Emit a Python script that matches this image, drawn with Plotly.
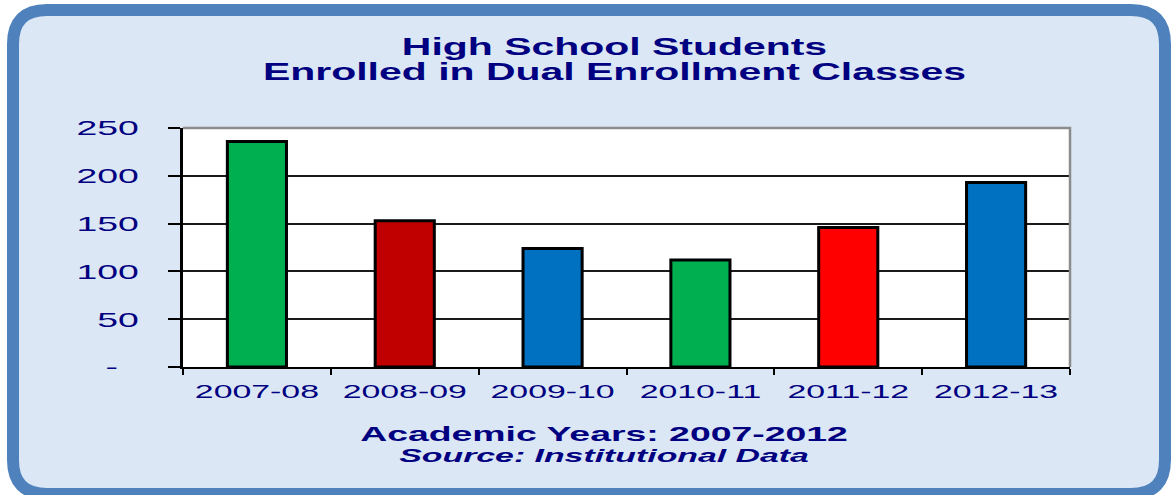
import plotly.graph_objects as go

# ---------------- data ----------------
years = ["2007-08", "2008-09", "2009-10", "2010-11", "2011-12", "2012-13"]
students = [236, 153, 124, 112, 146, 193]
bar_colors = ["#00B050", "#C00000", "#0070C0", "#00B050", "#FF0000", "#0070C0"]
ytick_vals = [0, 50, 100, 150, 200, 250]
ytick_text = ["-", "50", "100", "150", "200", "250"]
title_lines = ["High School Students", "Enrolled in Dual Enrollment Classes"]
x_title = "Academic Years: 2007-2012"
source_note = "Source: Institutional Data"

# ---------------- layout geometry ----------------
W, H = 1173, 495
L, R, T, B = 183, 103, 128, 128
PW, PH = W - L - R, H - T - B
NAVY = "#000080"
FONT = "Liberation Sans, Arial, sans-serif"


def px(x):
    return (x - L) / PW


def py(y):
    return (H - B - y) / PH


def rounded_path(x0, y0, x1, y1, r):
    pts = [
        ("M", [(x0 + r, y0)]),
        ("L", [(x1 - r, y0)]),
        ("Q", [(x1, y0), (x1, y0 + r)]),
        ("L", [(x1, y1 - r)]),
        ("Q", [(x1, y1), (x1 - r, y1)]),
        ("L", [(x0 + r, y1)]),
        ("Q", [(x0, y1), (x0, y1 - r)]),
        ("L", [(x0, y0 + r)]),
        ("Q", [(x0, y0), (x0 + r, y0)]),
    ]
    s = ""
    for cmd, ps in pts:
        s += cmd + " ".join(f"{px(a):.5f},{py(b):.5f}" for a, b in ps) + " "
    return s + "Z"


fig = go.Figure()
fig.add_trace(
    go.Bar(
        x=years,
        y=students,
        width=0.4,
        marker=dict(color=bar_colors, line=dict(color="black", width=3)),
        hoverinfo="x+y",
    )
)

shapes = [
    # rounded frame with light blue fill
    dict(
        type="path",
        xref="paper",
        yref="paper",
        path=rounded_path(13, 10, 1165, 494, 34),
        fillcolor="#DBE7F5",
        line=dict(color="#4F81BD", width=12),
        layer="below",
    ),
    # white plot area
    dict(
        type="rect", xref="paper", yref="paper", x0=0, y0=0, x1=1, y1=1,
        fillcolor="white", line=dict(width=0), layer="below",
    ),
    # grey top/right border of the plot area
    dict(
        type="path", xref="paper", yref="paper", path="M0,1 L1,1 L1,0",
        line=dict(color="#8C8C8C", width=2.5), layer="above",
    ),
]

ann = []
ann.append(dict(text=title_lines[0], x=px(614), y=py(47), font=dict(size=23, weight="bold")))
ann.append(dict(text=title_lines[1], x=px(614), y=py(72), font=dict(size=23, weight="bold")))
ann.append(dict(text=x_title, x=px(604), y=py(433), font=dict(size=21, weight="bold")))
ann.append(dict(text=source_note, x=px(604), y=py(455), font=dict(size=19, weight="bold", style="italic")))
for a in ann:
    a.update(xref="paper", yref="paper", showarrow=False, xanchor="center", yanchor="middle")
    a["font"].update(family=FONT, color=NAVY)

ylabels = [ytick_text[0] + "\u00a0\u00a0"] + ytick_text[1:]

fig.update_layout(
    width=W,
    height=H,
    margin=dict(l=L, r=R, t=T, b=B, autoexpand=False),
    paper_bgcolor="white",
    plot_bgcolor="white",
    showlegend=False,
    shapes=shapes,
    annotations=ann,
    bargap=0.6,
    xaxis=dict(
        type="category",
        showgrid=False,
        showline=True,
        linecolor="black",
        linewidth=2,
        ticks="outside",
        tickson="boundaries",
        ticklen=6,
        tickwidth=2,
        tickcolor="black",
        ticklabelstandoff=6,
        tickfont=dict(family=FONT, size=19, color=NAVY),
        fixedrange=True,
    ),
    yaxis=dict(
        range=[0, 250],
        tickvals=ytick_vals,
        ticktext=ylabels,
        showgrid=True,
        gridcolor="#1A1A1A",
        gridwidth=1.6,
        zeroline=False,
        showline=True,
        linecolor="black",
        linewidth=3,
        ticks="outside",
        ticklen=12,
        tickwidth=2,
        tickcolor="black",
        ticklabelstandoff=25,
        tickfont=dict(family=FONT, size=21, color=NAVY),
        fixedrange=True,
    ),
)

stretch_js = """
document.body.style.margin = '0';
document.body.style.overflow = 'hidden';
var gd = document.getElementById('{plot_id}');
var K = 1.78;
function stretchText(){
  var nodes = gd.querySelectorAll('svg text');
  for (var i = 0; i < nodes.length; i++){
    var t = nodes[i];
    var s = t.textContent;
    if (!s || !s.trim()) continue;
    if (t.getAttribute('data-stretched') === s) continue;
    t.removeAttribute('textLength');
    var len = t.getComputedTextLength();
    if (len > 0){
      t.setAttribute('textLength', (len * K).toFixed(2));
      t.setAttribute('lengthAdjust', 'spacingAndGlyphs');
      t.setAttribute('data-stretched', s);
    }
  }
}
stretchText();
gd.on('plotly_afterplot', stretchText);
"""

fig.write_html("out.html", config={"displayModeBar": False}, post_script=stretch_js)
